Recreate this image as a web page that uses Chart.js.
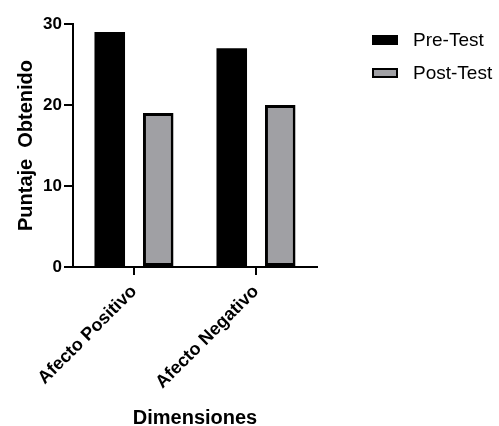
<!DOCTYPE html>
<html>
<head>
<meta charset="utf-8">
<script src="https://cdn.jsdelivr.net/npm/chart.js@4/dist/chart.umd.min.js"></script>
<style>
  body{margin:0;background:#fff;}
  #wrap{position:relative;width:499px;height:426px;}
  #legend{position:absolute;left:372px;top:23px;font-family:"Liberation Sans",Arial,sans-serif;font-size:19px;color:#000;}
  .item{display:flex;align-items:center;height:33px;}
  .box{width:26px;height:10px;box-sizing:border-box;margin-right:15px;}
</style>
</head>
<body>
<div id="wrap">
  <canvas id="chart" width="499" height="426"></canvas>
  <div id="legend"></div>
</div>
<script>
const categories=['Afecto Positivo','Afecto Negativo'];
const preTest=[29,27];
const postTest=[19,20];
const yTicks=[0,10,20,30];
const seriesNames=['Pre-Test','Post-Test'];
const fills=['#000000','#a0a0a4'];

const font='"Liberation Sans", Arial, sans-serif';

const ctx=document.getElementById('chart').getContext('2d');
const chart=new Chart(ctx,{
  type:'bar',
  data:{
    labels:categories,
    datasets:[
      {label:seriesNames[0],data:preTest,backgroundColor:fills[0],borderColor:'#000',borderWidth:0,borderSkipped:false},
      {label:seriesNames[1],data:postTest,backgroundColor:fills[1],borderColor:'#000',borderWidth:3,borderSkipped:false}
    ]
  },
  options:{
    responsive:false,
    animation:false,
    categoryPercentage:0.795,
    barPercentage:0.63,
    layout:{padding:{top:24,right:182,left:0,bottom:0}},
    plugins:{legend:{display:false},tooltip:{enabled:false}},
    scales:{
      x:{
        grid:{drawOnChartArea:false,offset:false,color:'#000',lineWidth:2,tickLength:8},
        border:{color:'#000',width:2},
        ticks:{color:'#000',font:{family:font,size:18,weight:'bold'},minRotation:45,maxRotation:45,padding:6},
        title:{display:true,text:'Dimensiones',color:'#000',font:{family:font,size:20,weight:'bold',lineHeight:0.8},padding:{top:0,bottom:0}},
        afterFit(s){s.height=159;}
      },
      y:{
        min:0,max:30,
        afterBuildTicks(s){s.ticks=yTicks.map(v=>({value:v}));},
        grid:{drawOnChartArea:false,color:'#000',lineWidth:2,tickLength:9},
        border:{color:'#000',width:2},
        ticks:{color:'#000',font:{family:font,size:17,weight:'bold'},padding:2},
        title:{display:true,text:'Puntaje  Obtenido',color:'#000',font:{family:font,size:20,weight:'bold',lineHeight:1},padding:{top:16,bottom:0}},
        afterFit(s){s.width=73;}
      }
    }
  }
});

const legendEl=document.getElementById('legend');
seriesNames.forEach((n,i)=>{
  const el=document.createElement('div');
  el.className='item';
  el.innerHTML=`<span class="box" style="background:${fills[i]};border:2px solid #000"></span>${n}`;
  legendEl.appendChild(el);
});
</script>
</body>
</html>
